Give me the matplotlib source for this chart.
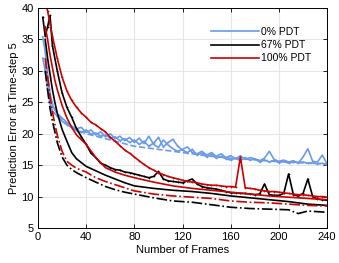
import numpy as np
import matplotlib
matplotlib.use('Agg')
from matplotlib import pyplot as plt
from matplotlib.lines import Line2D

plt.rcParams['font.family'] = ['Liberation Sans', 'DejaVu Sans']

# frames for the noisy curves
frames_noisy = [4, 6, 8, 10, 12, 16, 20, 24, 28, 32, 36, 40, 44, 48, 52, 56, 60, 64, 68, 72,
                76, 80, 84, 88, 92, 96, 100, 104, 108, 112, 116, 120, 124, 128, 132, 136, 140,
                144, 148, 152, 156, 160, 164, 168, 172, 176, 180, 184, 188, 192, 196, 200,
                204, 208, 212, 216, 220, 224, 228, 232, 236, 240]
# frames for the smooth curves
frames_smooth = [6, 8, 10, 12, 14, 16, 20, 24, 28, 32, 40, 48, 56, 64, 72, 80, 96, 112, 128,
                 144, 160, 176, 192, 208, 216, 224, 240]

# 0% PDT
blue_a = [35.4, 33.0, 29.5, 26.5, 24.5, 23.2, 22.5, 21.8, 21.2, 20.8, 21.0, 20.2, 20.6, 19.8,
          20.3, 19.5, 20.0, 19.2, 19.6, 18.9, 19.4, 18.6, 19.3, 18.4, 19.6, 18.3, 17.8, 19.0,
          18.2, 17.6, 17.2, 17.5, 17.9, 17.0, 16.8, 17.2, 16.6, 17.0, 16.4, 16.8, 16.2, 16.5,
          16.0, 16.5, 15.9, 16.2, 16.0, 15.7, 16.1, 17.2, 15.9, 15.6, 15.8, 15.5, 15.7, 15.3,
          16.3, 17.6, 15.6, 15.5, 16.6, 15.2]
blue_b = [32.0, 30.0, 27.0, 24.8, 23.6, 22.8, 22.0, 21.4, 21.0, 20.5, 20.2, 20.6, 19.9, 20.1,
          19.6, 19.8, 19.3, 19.5, 18.9, 19.2, 18.6, 19.0, 18.3, 18.8, 18.0, 18.5, 19.4, 17.9,
          18.6, 19.1, 18.0, 17.4, 17.0, 17.5, 16.6, 16.9, 16.3, 16.7, 16.1, 16.4, 16.0, 15.8,
          16.1, 15.7, 16.2, 15.8, 16.0, 15.5, 15.8, 15.5, 15.7, 15.4, 15.6, 15.3, 15.5, 15.4,
          15.5, 15.3, 15.4, 15.2, 15.3, 15.0]
blue_dash = [31.0, 28.0, 26.0, 24.8, 23.8, 23.2, 22.3, 21.6, 21.0, 20.6, 20.0, 19.6, 19.2,
             18.8, 18.4, 18.0, 17.6, 17.2, 16.8, 16.4, 16.1, 15.9, 15.7, 15.5, 15.4, 15.3, 15.2]

# 67% PDT
black_up = [38.5, 35.5, 37.0, 38.8, 34.0, 30.0, 26.5, 24.2, 22.6, 20.8, 19.5, 18.3, 16.9, 16.2,
            15.3, 15.0, 14.6, 14.3, 14.2, 13.9, 13.8, 13.6, 13.4, 13.2, 13.0, 13.2, 14.0, 12.8,
            12.5, 12.4, 12.3, 12.2, 12.5, 12.8, 12.0, 11.6, 11.4, 11.3, 11.2, 11.0, 10.8, 10.6,
            10.6, 10.5, 10.5, 10.4, 10.3, 10.4, 12.0, 10.3, 10.2, 10.2, 10.5, 13.6, 10.3, 10.1,
            10.5, 12.8, 10.0, 9.6, 9.5, 9.4]
black_low = [35.0, 32.0, 29.5, 27.0, 25.0, 23.3, 20.7, 18.8, 17.0, 16.0, 14.8, 14.1, 13.4,
             12.8, 12.2, 11.7, 11.3, 11.0, 10.8, 10.5, 10.1, 9.8, 9.5, 9.2, 9.0, 8.8, 8.6]
black_dashdot = [30.0, 27.0, 24.0, 22.0, 20.3, 18.6, 16.3, 15.0, 14.3, 13.8, 13.0, 12.3, 11.6,
                 11.1, 10.7, 10.4, 9.8, 9.3, 9.1, 8.7, 8.3, 8.1, 8.0, 7.9, 7.3, 7.7, 7.5]

# 100% PDT
red_up = [41.0, 41.0, 39.5, 37.5, 35.5, 32.0, 29.0, 26.8, 25.3, 24.2, 23.3, 22.6, 21.8, 21.4,
          20.8, 20.3, 19.4, 18.8, 18.1, 17.4, 16.9, 16.3, 15.7, 15.1, 14.6, 14.2, 13.8, 13.5,
          13.2, 13.0, 12.8, 12.6, 12.4, 12.3, 12.2, 12.0, 11.9, 11.8, 11.8, 11.7, 11.6, 11.6,
          11.5, 16.3, 11.4, 11.3, 11.2, 11.0, 10.9, 10.8, 10.8, 10.7, 10.6, 10.5, 10.4, 10.3,
          10.3, 10.2, 10.1, 10.0, 10.0, 9.9]
red_low = [37.0, 35.0, 32.5, 30.5, 28.5, 27.0, 24.5, 22.5, 21.0, 19.8, 18.3, 16.2, 14.6, 13.9,
           13.4, 13.0, 12.3, 11.7, 11.3, 11.0, 10.7, 10.4, 10.1, 9.9, 9.8, 9.7, 9.5]
red_dashdot = [32.0, 29.0, 26.0, 23.5, 21.5, 19.8, 17.2, 15.6, 15.0, 14.5, 13.9, 13.0, 12.4,
               11.9, 11.4, 10.9, 10.4, 10.1, 9.9, 9.7, 9.3, 9.1, 9.0, 8.8, 8.7, 8.6, 8.5]

labels = ['0% PDT', '67% PDT', '100% PDT']
blue = '#6a9be8'
black = '#000000'
red = '#cc0000'


def main():
    fig = plt.figure(figsize=(3.39, 2.63), dpi=100)
    ax = fig.add_axes([0.112, 0.133, 0.853, 0.837])

    lw = 1.2
    mk = dict(marker='+', markersize=2, markeredgewidth=0.5)

    # 0% PDT
    ax.plot(frames_noisy, blue_a, color=blue, lw=lw)
    ax.plot(frames_noisy, blue_b, color=blue, lw=lw, **mk)
    ax.plot(frames_smooth, blue_dash, color=blue, lw=lw, ls='--')

    # 67% PDT
    ax.plot(frames_noisy, black_up, color=black, lw=lw, **mk)
    ax.plot(frames_smooth, black_low, color=black, lw=lw)
    ax.plot(frames_smooth, black_dashdot, color=black, lw=lw, ls='-.')

    # 100% PDT
    ax.plot(frames_noisy, red_up, color=red, lw=lw, **mk)
    ax.plot(frames_smooth, red_low, color=red, lw=lw)
    ax.plot(frames_smooth, red_dashdot, color=red, lw=lw, ls='-.')

    ax.set_xlim(0, 240)
    ax.set_ylim(5, 40)
    ax.set_xticks(np.arange(0, 241, 40))
    ax.set_yticks(np.arange(5, 41, 5))
    ax.grid(True, color='#e6e6e6', lw=0.8)
    ax.set_axisbelow(True)
    ax.tick_params(direction='in', top=True, right=True, labelsize=8, length=3, width=0.6,
                   pad=3)
    for s in ax.spines.values():
        s.set_linewidth(0.7)

    ax.set_xlabel('Number of Frames', fontsize=8, labelpad=2)
    ax.set_ylabel('Prediction Error at Time-step 5', fontsize=8, labelpad=2)

    # legend handles: plain lines without markers
    handles = [Line2D([], [], color=c, lw=lw) for c in (blue, black, red)]
    ax.legend(handles, labels, loc='upper left',
              bbox_to_anchor=(0.585, 0.932), frameon=False, fontsize=7.5,
              handlelength=4.6, handletextpad=0.15, labelspacing=0.3,
              borderaxespad=0.0)

    fig.savefig('out.png', dpi=100)


if __name__ == '__main__':
    main()
